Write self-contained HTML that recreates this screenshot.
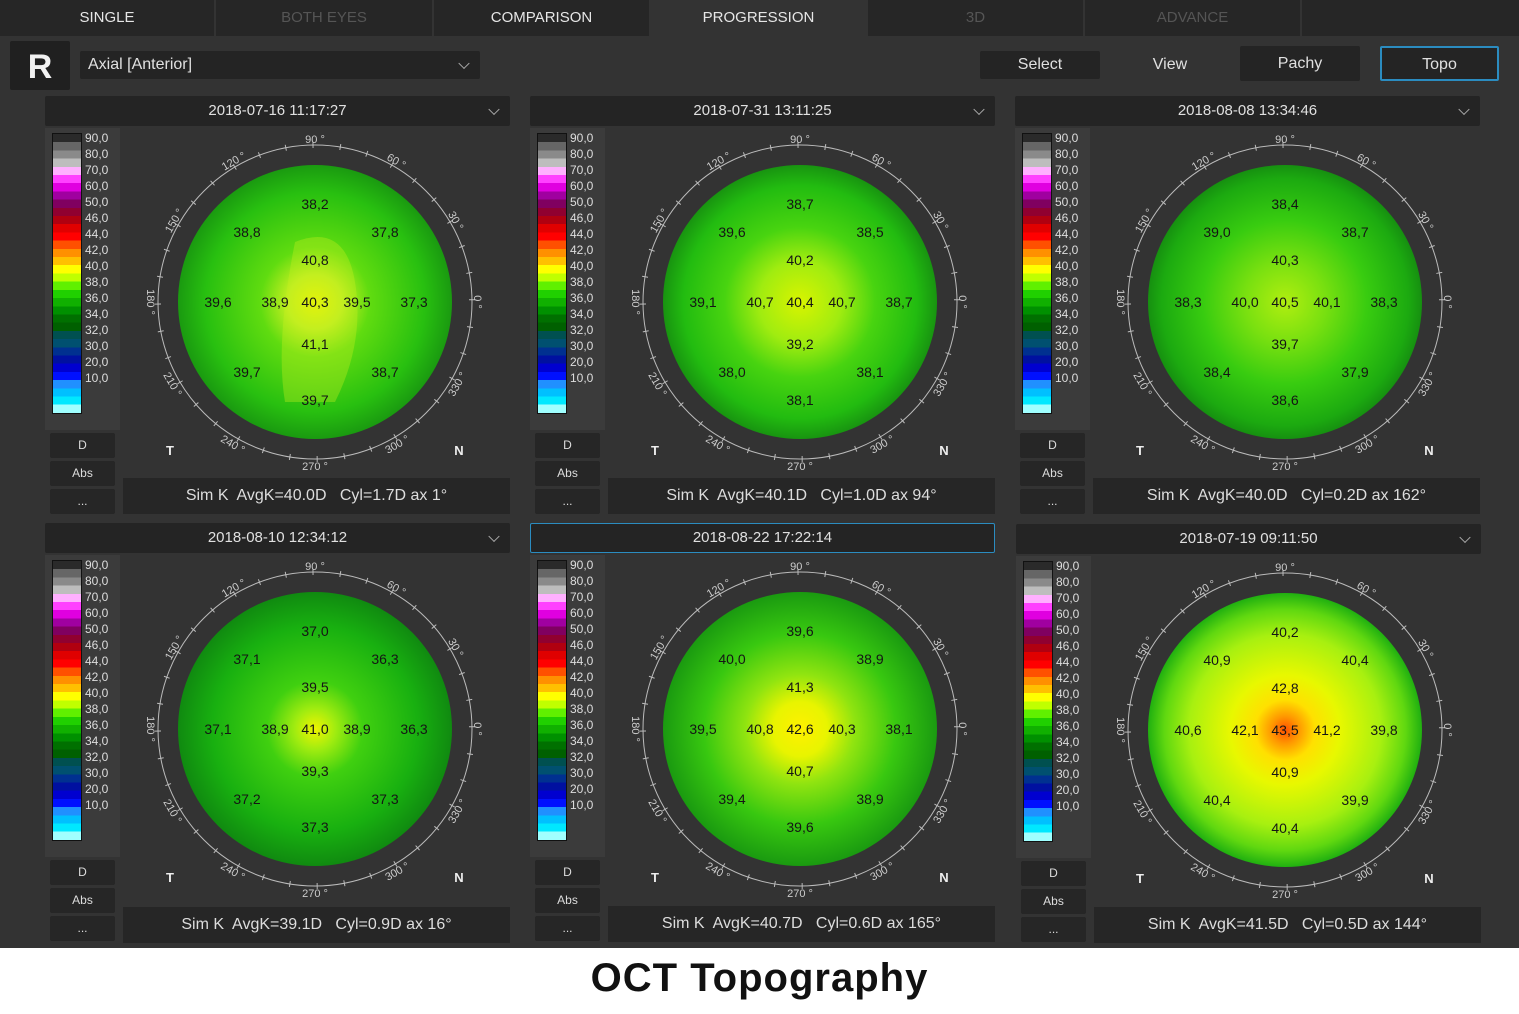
<!DOCTYPE html>
<html><head><meta charset="utf-8"><style>
body{margin:0;width:1519px;height:1014px;background:#fff;font-family:"Liberation Sans",sans-serif;position:relative;overflow:hidden}
#app{position:absolute;left:0;top:0;width:1519px;height:948px;background:#333}
.tab{position:absolute;top:0;height:36px;line-height:36px;text-align:center;font-size:15px;color:#e6e6e6;background:#262626}
.tab.dim{color:#555}
.tab.act{background:#333}
.box{position:absolute;background:#242424;border-radius:2px;color:#e0e0e0;font-size:15px;text-align:center}
.chev{position:absolute;right:12px;top:50%;width:7px;height:7px;border-right:1.5px solid #aaa;border-bottom:1.5px solid #aaa;transform:translateY(-70%) rotate(45deg)}
.cbox{position:absolute;width:75px;height:302px;background:#3b3b3b}
.cbar{position:absolute;left:7px;top:5px;width:28px;height:279px;border:1px solid #111;background:linear-gradient(#2a2a2a 0 2.94%,#666 0 5.88%,#8a8a8a 0 8.82%,#bdbdbd 0 11.76%,#ffb0ff 0 14.7%,#ff40ff 0 17.64%,#e000e0 0 20.58%,#a000a0 0 23.52%,#800060 0 26.46%,#900030 0 29.4%,#b00010 0 32.34%,#e00000 0 35.28%,#ff0000 0 38.22%,#ff5000 0 41.16%,#ff9000 0 44.1%,#ffc000 0 47.04%,#ffff00 0 50%,#c0ff00 0 52.94%,#60f000 0 55.88%,#20d000 0 58.82%,#10b000 0 61.76%,#009000 0 64.7%,#007000 0 67.64%,#006000 0 70.58%,#005050 0 73.52%,#005070 0 76.46%,#003090 0 79.4%,#0010a0 0 82.34%,#0000d0 0 85.28%,#0010ff 0 88.22%,#2090ff 0 91.16%,#00c0ff 0 94.1%,#00e8ff 0 97.04%,#a0ffff 0)}
.cl{position:absolute;left:40px;font-size:12px;color:#ddd;line-height:16px}
.btn{position:absolute;width:65px;height:25px;line-height:25px;background:#262626;color:#ddd;font-size:12px;text-align:center;border-radius:2px}
.sim{position:absolute;width:387px;height:36px;line-height:36px;background:#262626;color:#ddd;font-size:16px;text-align:center}
</style></head><body>
<div id="app">
<div class="tab" style="left:0;width:214px">SINGLE</div>
<div class="tab dim" style="left:216px;width:216px">BOTH EYES</div>
<div class="tab" style="left:434px;width:215px">COMPARISON</div>
<div class="tab act" style="left:651px;width:215px">PROGRESSION</div>
<div class="tab dim" style="left:868px;width:215px">3D</div>
<div class="tab dim" style="left:1085px;width:215px">ADVANCE</div>
<div class="tab" style="left:1302px;width:217px"></div>

<div class="box" style="left:10px;top:41px;width:60px;height:49px;line-height:52px;font-size:34px;font-weight:bold;color:#f2f2f2;background:#202020">R</div>
<div class="box" style="left:80px;top:51px;width:400px;height:28px;line-height:28px;text-align:left;padding-left:8px;box-sizing:border-box;font-size:16px">Axial [Anterior]<span class="chev"></span></div>
<div class="box" style="left:980px;top:51px;width:120px;height:28px;line-height:28px;font-size:16px">Select</div>
<div style="position:absolute;left:1140px;top:51px;width:60px;line-height:28px;text-align:center;color:#e0e0e0;font-size:16px">View</div>
<div class="box" style="left:1240px;top:46px;width:120px;height:35px;line-height:35px;font-size:16px">Pachy</div>
<div class="box" style="left:1380px;top:46px;width:119px;height:35px;line-height:33px;font-size:16px;border:2px solid #2b8cc0;box-sizing:border-box">Topo</div>

<div class="box" style="left:45px;top:96px;width:465px;height:30px;line-height:30px">2018-07-16 11:17:27<span class="chev"></span></div>
<div class="box" style="left:530px;top:96px;width:465px;height:30px;line-height:30px">2018-07-31 13:11:25<span class="chev"></span></div>
<div class="box" style="left:1015px;top:96px;width:465px;height:30px;line-height:30px">2018-08-08 13:34:46<span class="chev"></span></div>
<div class="box" style="left:45px;top:523px;width:465px;height:30px;line-height:30px">2018-08-10 12:34:12<span class="chev"></span></div>
<div class="box" style="left:530px;top:523px;width:465px;height:30px;line-height:28px;border:1px solid #2b8cc0;box-sizing:border-box">2018-08-22 17:22:14</div>
<div class="box" style="left:1016px;top:524px;width:465px;height:30px;line-height:30px">2018-07-19 09:11:50<span class="chev"></span></div>

<div class="cbox" style="left:45px;top:128px"><div class="cbar"></div>
<div class="cl" style="top:2px">90,0<br>80,0<br>70,0<br>60,0<br>50,0<br>46,0<br>44,0<br>42,0<br>40,0<br>38,0<br>36,0<br>34,0<br>32,0<br>30,0<br>20,0<br>10,0</div></div>
<div class="cbox" style="left:530px;top:128px"><div class="cbar"></div>
<div class="cl" style="top:2px">90,0<br>80,0<br>70,0<br>60,0<br>50,0<br>46,0<br>44,0<br>42,0<br>40,0<br>38,0<br>36,0<br>34,0<br>32,0<br>30,0<br>20,0<br>10,0</div></div>
<div class="cbox" style="left:1015px;top:128px"><div class="cbar"></div>
<div class="cl" style="top:2px">90,0<br>80,0<br>70,0<br>60,0<br>50,0<br>46,0<br>44,0<br>42,0<br>40,0<br>38,0<br>36,0<br>34,0<br>32,0<br>30,0<br>20,0<br>10,0</div></div>
<div class="cbox" style="left:45px;top:555px"><div class="cbar"></div>
<div class="cl" style="top:2px">90,0<br>80,0<br>70,0<br>60,0<br>50,0<br>46,0<br>44,0<br>42,0<br>40,0<br>38,0<br>36,0<br>34,0<br>32,0<br>30,0<br>20,0<br>10,0</div></div>
<div class="cbox" style="left:530px;top:555px"><div class="cbar"></div>
<div class="cl" style="top:2px">90,0<br>80,0<br>70,0<br>60,0<br>50,0<br>46,0<br>44,0<br>42,0<br>40,0<br>38,0<br>36,0<br>34,0<br>32,0<br>30,0<br>20,0<br>10,0</div></div>
<div class="cbox" style="left:1016px;top:556px"><div class="cbar"></div>
<div class="cl" style="top:2px">90,0<br>80,0<br>70,0<br>60,0<br>50,0<br>46,0<br>44,0<br>42,0<br>40,0<br>38,0<br>36,0<br>34,0<br>32,0<br>30,0<br>20,0<br>10,0</div></div>

<div class="btn" style="left:50px;top:433px">D</div><div class="btn" style="left:50px;top:461px">Abs</div><div class="btn" style="left:50px;top:489px">...</div>
<div class="btn" style="left:535px;top:433px">D</div><div class="btn" style="left:535px;top:461px">Abs</div><div class="btn" style="left:535px;top:489px">...</div>
<div class="btn" style="left:1020px;top:433px">D</div><div class="btn" style="left:1020px;top:461px">Abs</div><div class="btn" style="left:1020px;top:489px">...</div>
<div class="btn" style="left:50px;top:860px">D</div><div class="btn" style="left:50px;top:888px">Abs</div><div class="btn" style="left:50px;top:916px">...</div>
<div class="btn" style="left:535px;top:860px">D</div><div class="btn" style="left:535px;top:888px">Abs</div><div class="btn" style="left:535px;top:916px">...</div>
<div class="btn" style="left:1021px;top:861px">D</div><div class="btn" style="left:1021px;top:889px">Abs</div><div class="btn" style="left:1021px;top:917px">...</div>

<div class="sim" style="left:123px;top:478px">Sim K&nbsp; AvgK=40.0D &nbsp; Cyl=1.7D ax 1°</div>
<div class="sim" style="left:608px;top:478px">Sim K&nbsp; AvgK=40.1D &nbsp; Cyl=1.0D ax 94°</div>
<div class="sim" style="left:1093px;top:478px">Sim K&nbsp; AvgK=40.0D &nbsp; Cyl=0.2D ax 162°</div>
<div class="sim" style="left:123px;top:907px">Sim K&nbsp; AvgK=39.1D &nbsp; Cyl=0.9D ax 16°</div>
<div class="sim" style="left:608px;top:906px">Sim K&nbsp; AvgK=40.7D &nbsp; Cyl=0.6D ax 165°</div>
<div class="sim" style="left:1094px;top:907px">Sim K&nbsp; AvgK=41.5D &nbsp; Cyl=0.5D ax 144°</div>

<svg width="1519" height="948" style="position:absolute;left:0;top:0" font-family="Liberation Sans, sans-serif">
<defs>
<radialGradient id="g1" cx="0.5" cy="0.5" r="0.5"><stop offset="0" stop-color="#f0f400"/><stop offset="0.2" stop-color="#c0ee20"/><stop offset="0.4" stop-color="#60dc10"/><stop offset="0.8" stop-color="#28c010"/><stop offset="1" stop-color="#1a9a10"/></radialGradient>
<radialGradient id="g2" cx="0.5" cy="0.5" r="0.5"><stop offset="0" stop-color="#d8f400"/><stop offset="0.3" stop-color="#a0ec10"/><stop offset="0.55" stop-color="#48d410"/><stop offset="0.85" stop-color="#22bc10"/><stop offset="1" stop-color="#189410"/></radialGradient>
<radialGradient id="g3" cx="0.5" cy="0.5" r="0.5"><stop offset="0" stop-color="#b0ee10"/><stop offset="0.3" stop-color="#78e010"/><stop offset="0.6" stop-color="#38cc10"/><stop offset="0.9" stop-color="#1caa10"/><stop offset="1" stop-color="#169010"/></radialGradient>
<radialGradient id="g4" cx="0.5" cy="0.5" r="0.5"><stop offset="0" stop-color="#f0f400"/><stop offset="0.15" stop-color="#a0ec10"/><stop offset="0.35" stop-color="#40d010"/><stop offset="0.75" stop-color="#18b010"/><stop offset="1" stop-color="#108a10"/></radialGradient>
<radialGradient id="g5" cx="0.5" cy="0.5" r="0.5"><stop offset="0" stop-color="#fff000"/><stop offset="0.2" stop-color="#e8f400"/><stop offset="0.4" stop-color="#90e410"/><stop offset="0.7" stop-color="#38c810"/><stop offset="1" stop-color="#1a9a10"/></radialGradient>
<radialGradient id="g6" cx="0.5" cy="0.5" r="0.5"><stop offset="0" stop-color="#ff5000"/><stop offset="0.1" stop-color="#ff9800"/><stop offset="0.22" stop-color="#ffe000"/><stop offset="0.4" stop-color="#e8f800"/><stop offset="0.7" stop-color="#a8f010"/><stop offset="0.88" stop-color="#60d810"/><stop offset="1" stop-color="#20b010"/></radialGradient>
<g id="ring" fill="none" stroke="#bbb">
<circle r="157" stroke-width="1"/>
<circle r="157" stroke-width="6" stroke-dasharray="1 26.4" transform="rotate(-1)"/>
</g>
<g id="deg" fill="#ccc" font-size="11" text-anchor="middle">
<text transform="translate(0,-159)">90 °</text>
<text transform="rotate(30) translate(0,-159)">60 °</text>
<text transform="rotate(60) translate(0,-159)">30 °</text>
<text transform="rotate(90) translate(0,-159)">0 °</text>
<text transform="rotate(-30) translate(0,-159)">120 °</text>
<text transform="rotate(-60) translate(0,-159)">150 °</text>
<text transform="rotate(90) translate(0,168)">180 °</text>
<text transform="rotate(60) translate(0,168)">210 °</text>
<text transform="rotate(30) translate(0,168)">240 °</text>
<text transform="translate(0,168)">270 °</text>
<text transform="rotate(-30) translate(0,168)">300 °</text>
<text transform="rotate(-60) translate(0,168)">330 °</text>
<text x="-145" y="153" font-size="13" font-weight="bold" fill="#eee">T</text>
<text x="144" y="153" font-size="13" font-weight="bold" fill="#eee">N</text>
</g>
</defs>

<g font-size="14" fill="#151515" text-anchor="middle">
<g transform="translate(315,302)">
<circle r="137" fill="url(#g1)"/>
<path d="M-20 -60 Q30 -80 40 -20 Q50 40 20 100 L-30 100 Q-40 40 -20 -60Z" fill="#c8f020" opacity="0.35"/>
<use href="#ring"/><use href="#deg"/>
<text y="-93">38,2</text><text x="-68" y="-65">38,8</text><text x="70" y="-65">37,8</text><text y="-37">40,8</text>
<text x="-97" y="5">39,6</text><text x="-40" y="5">38,9</text><text y="5">40,3</text><text x="42" y="5">39,5</text><text x="99" y="5">37,3</text>
<text y="47">41,1</text><text x="-68" y="75">39,7</text><text x="70" y="75">38,7</text><text y="103">39,7</text>
</g>
<g transform="translate(800,302)">
<circle r="137" fill="url(#g2)"/>
<use href="#ring"/><use href="#deg"/>
<text y="-93">38,7</text><text x="-68" y="-65">39,6</text><text x="70" y="-65">38,5</text><text y="-37">40,2</text>
<text x="-97" y="5">39,1</text><text x="-40" y="5">40,7</text><text y="5">40,4</text><text x="42" y="5">40,7</text><text x="99" y="5">38,7</text>
<text y="47">39,2</text><text x="-68" y="75">38,0</text><text x="70" y="75">38,1</text><text y="103">38,1</text>
</g>
<g transform="translate(1285,302)">
<circle r="137" fill="url(#g3)"/>
<use href="#ring"/><use href="#deg"/>
<text y="-93">38,4</text><text x="-68" y="-65">39,0</text><text x="70" y="-65">38,7</text><text y="-37">40,3</text>
<text x="-97" y="5">38,3</text><text x="-40" y="5">40,0</text><text y="5">40,5</text><text x="42" y="5">40,1</text><text x="99" y="5">38,3</text>
<text y="47">39,7</text><text x="-68" y="75">38,4</text><text x="70" y="75">37,9</text><text y="103">38,6</text>
</g>
<g transform="translate(315,729)">
<circle r="137" fill="url(#g4)"/>
<use href="#ring"/><use href="#deg"/>
<text y="-93">37,0</text><text x="-68" y="-65">37,1</text><text x="70" y="-65">36,3</text><text y="-37">39,5</text>
<text x="-97" y="5">37,1</text><text x="-40" y="5">38,9</text><text y="5">41,0</text><text x="42" y="5">38,9</text><text x="99" y="5">36,3</text>
<text y="47">39,3</text><text x="-68" y="75">37,2</text><text x="70" y="75">37,3</text><text y="103">37,3</text>
</g>
<g transform="translate(800,729)">
<circle r="137" fill="url(#g5)"/>
<use href="#ring"/><use href="#deg"/>
<text y="-93">39,6</text><text x="-68" y="-65">40,0</text><text x="70" y="-65">38,9</text><text y="-37">41,3</text>
<text x="-97" y="5">39,5</text><text x="-40" y="5">40,8</text><text y="5">42,6</text><text x="42" y="5">40,3</text><text x="99" y="5">38,1</text>
<text y="47">40,7</text><text x="-68" y="75">39,4</text><text x="70" y="75">38,9</text><text y="103">39,6</text>
</g>
<g transform="translate(1285,730)">
<circle r="137" fill="url(#g6)"/>
<use href="#ring"/><use href="#deg"/>
<text y="-93">40,2</text><text x="-68" y="-65">40,9</text><text x="70" y="-65">40,4</text><text y="-37">42,8</text>
<text x="-97" y="5">40,6</text><text x="-40" y="5">42,1</text><text y="5">43,5</text><text x="42" y="5">41,2</text><text x="99" y="5">39,8</text>
<text y="47">40,9</text><text x="-68" y="75">40,4</text><text x="70" y="75">39,9</text><text y="103">40,4</text>
</g>
</g>
</svg>
</div>
<div style="position:absolute;left:0;top:948px;width:1519px;height:66px;line-height:60px;text-align:center;font-size:40px;font-weight:bold;color:#111;font-family:'Liberation Sans',sans-serif;letter-spacing:1px">OCT Topography</div>
</body></html>
